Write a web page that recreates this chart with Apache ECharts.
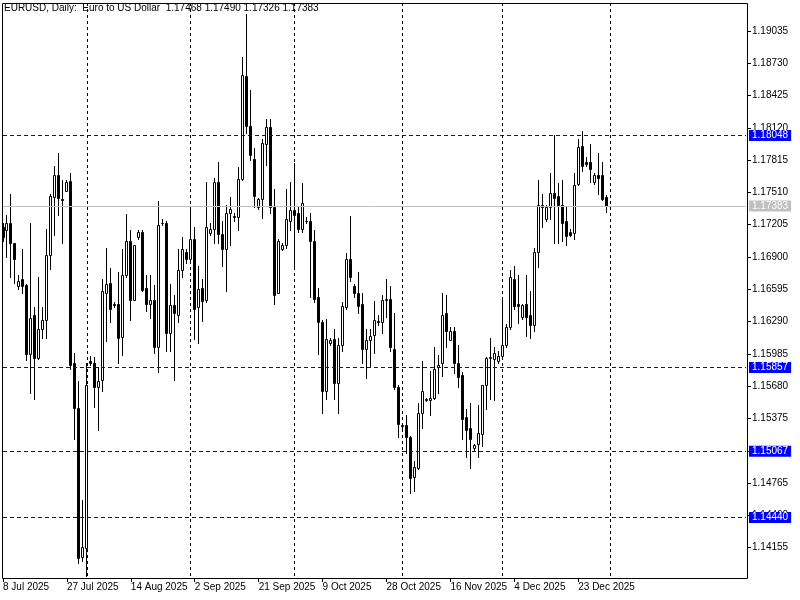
<!DOCTYPE html>
<html><head><meta charset="utf-8">
<script src="https://cdn.jsdelivr.net/npm/echarts@6/dist/echarts.min.js"></script>
<style>html,body{margin:0;padding:0;background:#fff}#c{width:800px;height:600px}</style>
</head><body><div id="c"></div>
<script>
const opens=[1.17188,1.17160,1.17226,1.17028,1.16631,1.16688,1.16640,1.15989,1.16348,1.15951,
1.16216,1.16310,1.16915,1.17471,1.17679,1.17452,1.17519,1.17614,1.15895,1.15479,
1.14071,1.14157,1.15914,1.15904,1.15677,1.15743,1.16565,1.16659,1.16452,1.16452,
1.16149,1.16735,1.17056,1.16499,1.17085,1.17132,1.16612,1.16452,1.16490,1.16046,
1.17226,1.17226,1.16187,1.16443,1.16357,1.16782,1.16943,1.16877,1.17075,1.16424,
1.16612,1.16490,1.17123,1.17169,1.17604,1.17113,1.16980,1.17312,1.17283,1.17274,
1.17641,1.18605,1.18133,1.17830,1.17368,1.17452,1.17963,1.18124,1.17377,1.16565,
1.16980,1.17018,1.17245,1.17340,1.17312,1.17169,1.17245,1.17236,1.17056,1.16527,
1.16282,1.15639,1.16084,1.16130,1.15715,1.16074,1.16424,1.16877,1.16631,1.16556,
1.16452,1.16036,1.16121,1.16168,1.16292,1.16282,1.16490,1.16508,1.16036,1.15677,
1.15318,1.15318,1.15205,1.14827,1.14912,1.15423,1.15554,1.15554,1.15573,1.15857,
1.15895,1.16367,1.16121,1.16206,1.15895,1.15790,1.15385,1.15281,1.15101,1.15139,
1.15233,1.15687,1.15951,1.15941,1.15914,1.15970,1.16074,1.16235,1.16697,1.16452,
1.16338,1.16452,1.16348,1.16254,1.16943,1.17396,1.17255,1.17368,1.17509,1.17481,
1.17396,1.17245,1.17132,1.17123,1.17594,1.17944,1.17793,1.17802,1.17604,1.17679,
1.17679,1.17468];
const closes=[1.17085,1.17217,1.17028,1.16877,1.16669,1.16631,1.15989,1.16329,1.15951,1.16216,
1.16310,1.16915,1.17481,1.17679,1.17462,1.17443,1.17604,1.15885,1.15479,1.14062,
1.14166,1.15687,1.15895,1.15677,1.15734,1.16575,1.16650,1.16414,1.16443,1.16140,
1.16735,1.17047,1.16499,1.17009,1.17132,1.16593,1.16452,1.16499,1.16046,1.17198,
1.17217,1.16187,1.16443,1.16367,1.16782,1.16980,1.16877,1.17075,1.16414,1.16602,
1.16481,1.17179,1.17169,1.17604,1.17113,1.16980,1.17312,1.17358,1.17274,1.17641,
1.18615,1.18133,1.17868,1.17481,1.17452,1.17973,1.18124,1.17377,1.16537,1.17056,
1.17018,1.17255,1.17340,1.17293,1.17169,1.17406,1.17236,1.17056,1.16508,1.16282,
1.15639,1.16130,1.16121,1.15706,1.16074,1.16433,1.16877,1.16707,1.16556,1.16433,
1.16027,1.16112,1.16159,1.16310,1.16282,1.16499,1.16508,1.16046,1.15668,1.15328,
1.15309,1.15196,1.14818,1.14921,1.15423,1.15639,1.15558,1.15573,1.15847,1.15885,
1.16357,1.16206,1.16206,1.15895,1.15771,1.15366,1.15271,1.15177,1.15129,1.15243,
1.15687,1.15951,1.15960,1.15998,1.15970,1.16074,1.16235,1.16707,1.16433,1.16433,
1.16443,1.16338,1.16254,1.16943,1.17387,1.17377,1.17368,1.17509,1.17462,1.17387,
1.17226,1.17094,1.17104,1.17585,1.17935,1.17755,1.17774,1.17736,1.17679,1.17651,
1.17452,1.17383];
const highs=[1.17226,1.17293,1.17500,1.17037,1.16726,1.16980,1.16650,1.17217,1.16424,1.16716,
1.16424,1.17169,1.17500,1.17755,1.17887,1.17623,1.17632,1.17698,1.15998,1.15725,
1.14610,1.15904,1.15970,1.15960,1.15857,1.16688,1.16990,1.16801,1.16471,1.16754,
1.16980,1.17302,1.17160,1.17018,1.17151,1.17160,1.16726,1.16735,1.16640,1.17425,
1.17255,1.17236,1.16650,1.16537,1.16980,1.17085,1.16980,1.17368,1.17179,1.16820,
1.16697,1.17604,1.17217,1.17651,1.17793,1.17245,1.17396,1.17471,1.17312,1.17746,
1.18785,1.19191,1.18482,1.17925,1.17462,1.18019,1.18208,1.18208,1.17538,1.17066,
1.17028,1.17547,1.17604,1.17784,1.17377,1.17595,1.17274,1.17312,1.17151,1.16612,
1.16301,1.16319,1.16140,1.16225,1.16140,1.16471,1.16934,1.17283,1.16650,1.16754,
1.16556,1.16225,1.16225,1.16481,1.16348,1.16537,1.16697,1.16631,1.16376,1.15687,
1.15328,1.15413,1.15214,1.14978,1.15517,1.15914,1.15573,1.15828,1.16046,1.15979,
1.16556,1.16537,1.16235,1.16235,1.16074,1.15819,1.15469,1.15526,1.15139,1.15507,
1.15696,1.15960,1.16140,1.16046,1.16017,1.16518,1.16263,1.16782,1.16820,1.16726,
1.16452,1.16726,1.16575,1.16990,1.17632,1.17500,1.17387,1.17689,1.18048,1.17595,
1.17632,1.17377,1.17169,1.17698,1.18019,1.18086,1.17840,1.17972,1.17698,1.17887,
1.17793,1.17490];
const lows=[1.17056,1.16896,1.16707,1.16659,1.16602,1.16556,1.15923,1.15620,1.15563,1.15941,
1.16140,1.16140,1.16791,1.17104,1.17293,1.17028,1.17519,1.15847,1.15186,1.14015,
1.14034,1.13892,1.15885,1.15488,1.15271,1.15639,1.16103,1.16282,1.16424,1.15895,
1.15979,1.16707,1.16301,1.16490,1.17075,1.16584,1.16386,1.16329,1.15998,1.15819,
1.17207,1.16017,1.16008,1.15743,1.16282,1.16716,1.16848,1.16867,1.16130,1.16084,
1.16292,1.16471,1.17104,1.17028,1.17028,1.16820,1.16575,1.17009,1.17245,1.17151,
1.17632,1.18067,1.17812,1.17368,1.17358,1.17264,1.17765,1.17312,1.16452,1.16556,
1.16962,1.16990,1.17151,1.16820,1.17132,1.17132,1.17226,1.16518,1.16471,1.15989,
1.15423,1.15563,1.16065,1.15563,1.15423,1.16017,1.16414,1.16678,1.16527,1.16367,
1.15895,1.15762,1.15857,1.15998,1.16254,1.16178,1.16338,1.16017,1.15658,1.15205,
1.15253,1.15054,1.14676,1.14695,1.14902,1.15290,1.15536,1.15404,1.15563,1.15620,
1.15781,1.16046,1.16112,1.15809,1.15668,1.15177,1.15007,1.14912,1.15082,1.15007,
1.15120,1.15469,1.15563,1.15554,1.15904,1.15960,1.16055,1.16225,1.16414,1.16273,
1.16319,1.16159,1.16140,1.16206,1.16810,1.17188,1.17245,1.17255,1.17028,1.17028,
1.17047,1.17018,1.17094,1.17066,1.17576,1.17717,1.17755,1.17604,1.17594,1.17491,
1.17434,1.17326];

const tickIndex=[0,16,32,48,64,80,96,112,128,144];
const tickLabels=['8 Jul 2025','27 Jul 2025','14 Aug 2025','2 Sep 2025','21 Sep 2025','9 Oct 2025','28 Oct 2025','16 Nov 2025','4 Dec 2025','23 Dec 2025'];
const monthStarts=[21,47,73,100,125,152];
const priceTicks=[1.14155,1.14460,1.14765,1.15070,1.15375,1.15680,1.15985,1.16290,1.16595,1.16900,1.17205,1.17510,1.17815,1.18120,1.18425,1.18730,1.19035];
const levelLines=[1.18048,1.15857,1.15067,1.14440];
const lastPrice=1.17383;
const titleText='EURUSD, Daily:  Euro to US Dollar  1.17468 1.17490 1.17326 1.17383';
const slotCount=187;
const categories=Array.from({length:slotCount},(_,i)=>i);

const FONT='"Liberation Sans", Arial, sans-serif';
const candleData=opens.map((o,i)=>[i,o,closes[i],lows[i],highs[i]]);

function renderCandle(params, api){
  const i=api.value(0), open=api.value(1), close=api.value(2);
  const pO=api.coord([i,open]), pC=api.coord([i,close]);
  const pL=api.coord([i,api.value(3)]), pH=api.coord([i,api.value(4)]);
  const px=Math.floor(pO[0])+0.5;
  const yO=Math.round(pO[1]), yC=Math.round(pC[1]);
  const yH=Math.round(pH[1]), yL=Math.round(pL[1]);
  const top=Math.min(yO,yC)+0.5, bot=Math.max(yO,yC)+0.5;
  const up=close>=open;
  return {type:'group',children:[
    {type:'line',shape:{x1:px,y1:yH,x2:px,y2:yL+1},style:{stroke:'#000',lineWidth:1}},
    {type:'rect',shape:{x:px-1,y:top,width:2,height:bot-top},
      style:{fill:up?'#ffffff':'#000000',stroke:'#000',lineWidth:1}}
  ]};
}

const chart=echarts.init(document.getElementById('c'),null,{renderer:'canvas'});
const labelBase={show:true,position:'end',distance:3,fontFamily:FONT,fontSize:10,
  padding:[1,3,0,3],lineHeight:10,color:'#ffffff',formatter:(p)=>Number(p.value).toFixed(5)};
chart.setOption({
  animation:false,
  backgroundColor:'#ffffff',
  title:{text:titleText,left:4,top:3,padding:0,
    textStyle:{fontFamily:FONT,fontSize:10,fontWeight:'normal',color:'#000'}},
  grid:{left:2,top:3,width:744,height:575,show:false},
  xAxis:{type:'category',data:categories,boundaryGap:false,
    axisLine:{show:false},
    axisTick:{show:true,interval:(i)=>tickIndex.includes(i),length:4,lineStyle:{color:'#000'}},
    axisLabel:{interval:(i)=>tickIndex.includes(i),
      formatter:(v,i)=>{const k=tickIndex.indexOf(Number(v));return k>=0?tickLabels[k]:'';},
      align:'left',margin:4,fontFamily:FONT,fontSize:10,color:'#000'},
    splitLine:{show:true,interval:(i)=>monthStarts.includes(i),
      lineStyle:{color:'#000',type:[3,3],width:1}}},
  yAxis:{type:'value',position:'right',offset:1,min:1.13869,max:1.19299,
    axisLine:{show:false},
    axisTick:{show:true,customValues:priceTicks,length:4,lineStyle:{color:'#000'}},
    axisLabel:{customValues:priceTicks,formatter:(v)=>Number(v).toFixed(5),margin:5,
      fontFamily:FONT,fontSize:10,color:'#000'},
    splitLine:{show:false}},
  graphic:[{type:'rect',shape:{x:2.5,y:3.5,width:745,height:575},
    style:{fill:null,stroke:'#000',lineWidth:1},z:50,silent:true}],
  series:[
    {type:'line',name:'levels',data:[],silent:true,z:1,color:'#0000ff',
      markLine:{symbol:'none',silent:true,animation:false,precision:5,
        lineStyle:{color:'#0000ff',type:[4,3],width:1,opacity:1},
        label:Object.assign({},labelBase,{backgroundColor:'#0000ff'}),
        emphasis:{disabled:true},
        data:levelLines.map(v=>({yAxis:v}))}},
    {type:'line',name:'last',data:[],silent:true,z:1,color:'#c0c0c0',
      markLine:{symbol:'none',silent:true,animation:false,precision:5,
        lineStyle:{color:'#c0c0c0',type:'solid',width:1,opacity:1},
        label:Object.assign({},labelBase,{backgroundColor:'#c0c0c0'}),
        emphasis:{disabled:true},
        data:[{yAxis:lastPrice}]}},
    {type:'custom',data:candleData,renderItem:renderCandle,z:3,
      encode:{x:0,y:[1,2,3,4]}}
  ]
});
</script></body></html>
